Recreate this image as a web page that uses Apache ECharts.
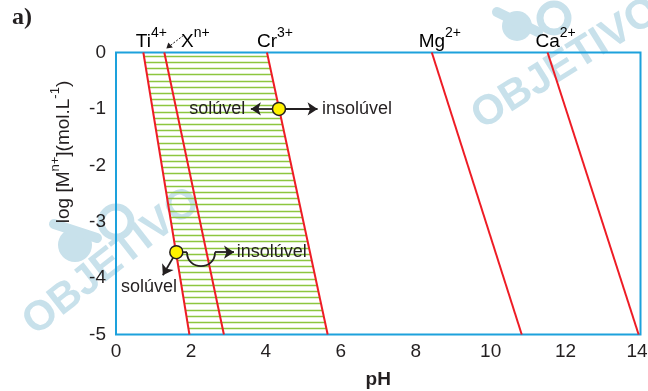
<!DOCTYPE html>
<html>
<head>
<meta charset="utf-8">
<script src="https://cdn.jsdelivr.net/npm/echarts@6/dist/echarts.min.js"></script>
<style>
  html, body { margin: 0; padding: 0; background: #fff; }
  #chart { width: 648px; height: 391px; }
</style>
</head>
<body>
<div id="chart"></div>
<script>
// Precipitation lines: log [M n+] against pH for each cation
const ions       = ['Ti', 'X', 'Cr', 'Mg', 'Ca'];
const charges    = ['4+', 'n+', '3+', '2+', '2+'];
const pHAtTop    = [0.73, 1.29, 4.03, 8.43, 11.52];   // pH where log [M] = 0
const pHAtBottom = [1.96, 2.88, 5.65, 10.83, 13.95];  // pH where log [M] = -5
const logTop = 0;
const logBottom = -5;

// Axis ticks
const pHTicks  = [0, 2, 4, 6, 8, 10, 12, 14];
const logTicks = [0, -1, -2, -3, -4, -5];

// Marked solutions (yellow points)
const pointPH  = [4.35, 1.61];
const pointLog = [-1, -3.54];

// Straight arrows: from (pH, log) to (pH, log)
const arrowFromPH  = [4.35, 4.35, 1.61, 2.64];
const arrowFromLog = [-1, -1, -3.54, -3.54];
const arrowToPH    = [3.60, 5.38, 1.25, 3.15];
const arrowToLog   = [-1, -1, -3.95, -3.54];

// Bent arrow (dips below the point before turning right)
const bendPH  = [1.61, 1.895, 2.643];
const bendLog = [-3.54, -3.87];

// Words next to the arrows
const wordText = ['solúvel', 'insolúvel', 'insolúvel', 'solúvel'];
const wordPH   = [3.45, 5.50, 3.22, 0.88];
const wordLog  = [-1, -1, -3.54, -4.16];

const FONT = '"Liberation Sans", Arial, sans-serif';
const INK = '#231f20';
const RED = '#ee1c25';
const FRAME = '#1da1dc';
const HATCH = '#8dc63f';
const WATER = '#c8e1eb';

// pH of line i at a given log value
function lineAt(i, y) {
  const t = (logTop - y) / (logTop - logBottom);
  return pHAtTop[i] + t * (pHAtBottom[i] - pHAtTop[i]);
}

const chart = echarts.init(document.getElementById('chart'), null, { renderer: 'canvas' });

const ionSeries = ions.map((ion, i) => ({
  type: 'line',
  name: ion,
  data: [[pHAtTop[i], logTop], [pHAtBottom[i], logBottom]],
  symbol: 'none',
  silent: true,
  animation: false,
  z: 4,
  lineStyle: { color: RED, width: 2 }
}));

const supRich = {
  b: { fontFamily: FONT, fontSize: 19, color: INK, lineHeight: 25, verticalAlign: 'bottom' },
  s: { fontFamily: FONT, fontSize: 14, color: INK, lineHeight: 14, verticalAlign: 'top' }
};

// publisher mark: ball, band, ring and lettering
function watermark(cx, cy, ballR, ring, band, tx, ty, angle) {
  return [
    { type: 'circle', z: 0, silent: true, shape: { cx, cy, r: ballR }, style: { fill: WATER } },
    { type: 'arc', z: 0, silent: true, shape: { cx: ring[0], cy: ring[1], r: ring[2], startAngle: 0, endAngle: Math.PI * 2 },
      style: { stroke: WATER, lineWidth: 7, fill: null } },
    { type: 'line', z: 0, silent: true, shape: { x1: band[0], y1: band[1], x2: band[2], y2: band[3] },
      style: { stroke: WATER, lineWidth: 10, lineCap: 'round' } },
    { type: 'text', z: 0, silent: true, x: tx, y: ty, rotation: angle * Math.PI / 180,
      style: { text: 'OBJETIVO', font: 'bold 42px ' + FONT, fill: WATER, align: 'center', verticalAlign: 'middle' } }
  ];
}

const lastPH = pHTicks[pHTicks.length - 1];

const option = {
  animation: false,
  backgroundColor: '#fff',
  grid: {
    left: 116, top: 52.5, right: 7.5, bottom: 56.5,
    outerBoundsMode: 'none',
    show: true, borderColor: FRAME, borderWidth: 2, backgroundColor: 'transparent', z: 3
  },
  xAxis: {
    type: 'value', min: pHTicks[0], max: lastPH, interval: 2,
    axisLine: { show: false }, axisTick: { show: false }, splitLine: { show: false },
    axisLabel: {
      color: INK, fontFamily: FONT, fontSize: 19, margin: 8,
      // keep the last label inside the canvas
      formatter: v => (v === lastPH ? '{end|' + v + '}' : String(v)),
      rich: { end: { color: INK, fontFamily: FONT, fontSize: 19, padding: [0, 7, 0, 0] } }
    },
    name: 'pH', nameLocation: 'middle', nameGap: 36,
    nameTextStyle: { color: INK, fontFamily: FONT, fontSize: 19, fontWeight: 'bold' }
  },
  yAxis: {
    type: 'value', min: logTicks[logTicks.length - 1], max: logTicks[0], interval: 1,
    axisLine: { show: false }, axisTick: { show: false }, splitLine: { show: false },
    axisLabel: { color: INK, fontFamily: FONT, fontSize: 19, margin: 10 }
  },
  graphic: [
    ...watermark(517, 26, 15, [554, 18, 14], [497, 12, 538, 32], 566, 64, 32),
    ...watermark(75, 245, 17, [116, 222, 15], [54, 224, 97, 238], 112, 262, 38),
    // panel letter
    { type: 'text', z: 10, left: 12, top: 6,
      style: { text: 'a)', font: 'bold 24px "Liberation Serif", "Times New Roman", serif', fill: INK } },
    // y axis title
    { type: 'text', z: 10, x: 61, y: 152, rotation: Math.PI / 2,
      style: {
        text: '{b|log [M}{s|n+}{b|](mol.L}{s|-1}{b|)}',
        align: 'center', verticalAlign: 'middle',
        rich: {
          b: { fontFamily: FONT, fontSize: 19, fill: INK, lineHeight: 24, verticalAlign: 'bottom' },
          s: { fontFamily: FONT, fontSize: 13, fill: INK, lineHeight: 13, verticalAlign: 'top' }
        }
      } }
  ],
  series: [
    // horizontal hatching between the Ti and Cr lines
    {
      type: 'custom', silent: true, z: 2,
      data: [[0, 0]],
      renderItem: (params, api) => {
        const children = [];
        const step = 0.1097;
        for (let k = 0; k < 45; k++) {
          const y = logTop - 0.06 - k * step;
          const p1 = api.coord([lineAt(0, y), y]);
          const p2 = api.coord([lineAt(2, y), y]);
          const py = Math.round(p1[1]) + 0.5;
          children.push({
            type: 'line',
            shape: { x1: p1[0], y1: py, x2: p2[0], y2: py },
            style: { stroke: HATCH, lineWidth: 1.3 }
          });
        }
        return { type: 'group', children };
      }
    },
    ...ionSeries,
    // ion labels above the frame
    {
      type: 'custom', silent: true, z: 6,
      data: ions.map((ion, i) => [pHAtTop[i], logTop, i]),
      renderItem: (params, api) => {
        const i = api.value(2);
        const p = api.coord([api.value(0), api.value(1)]);
        const dx = ions[i] === 'X' ? 31 : 8;
        const children = [{
          type: 'text', x: p[0] + dx, y: p[1] - 14,
          style: {
            text: '{b|' + ions[i] + '}{s|' + charges[i] + '}',
            align: 'center', verticalAlign: 'middle', rich: supRich
          }
        }];
        if (ions[i] === 'X') {
          // dashed pointer from the X label down to its line
          children.push({
            type: 'line',
            shape: { x1: p[0] + 19, y1: p[1] - 17, x2: p[0] + 6, y2: p[1] - 7 },
            style: { stroke: INK, lineWidth: 1, lineDash: [2, 1.5] }
          });
          children.push({
            type: 'polygon',
            shape: { points: [[p[0] + 2, p[1] - 4], [p[0] + 4, p[1] - 10], [p[0] + 8.5, p[1] - 5]] },
            style: { fill: INK }
          });
        }
        return { type: 'group', children };
      }
    },
    // bent arrow path
    {
      type: 'custom', silent: true, z: 7,
      data: [[bendPH[0], bendLog[0]]],
      renderItem: (params, api) => {
        const a = api.coord([bendPH[0], bendLog[0]]);
        const b = api.coord([bendPH[1], bendLog[0]]);
        const c1 = api.coord([bendPH[1], bendLog[1]]);
        const c2 = api.coord([bendPH[2], bendLog[1]]);
        const e = api.coord([bendPH[2], bendLog[0]]);
        return {
          type: 'group',
          children: [
            { type: 'line', shape: { x1: a[0], y1: a[1], x2: b[0], y2: b[1] }, style: { stroke: INK, lineWidth: 1.8 } },
            { type: 'bezierCurve', shape: { x1: b[0], y1: b[1], cpx1: c1[0], cpy1: c1[1], cpx2: c2[0], cpy2: c2[1], x2: e[0], y2: e[1] },
              style: { stroke: INK, lineWidth: 1.8, fill: null } }
          ]
        };
      }
    },
    // straight arrows
    {
      type: 'lines', coordinateSystem: 'cartesian2d', silent: true, z: 7,
      polyline: false, clip: false,
      symbol: ['none', 'arrow'], symbolSize: 10,
      lineStyle: { color: INK, width: 1.8, opacity: 1, curveness: 0 },
      data: arrowFromPH.map((x, i) => ({
        coords: [[x, arrowFromLog[i]], [arrowToPH[i], arrowToLog[i]]]
      }))
    },
    // yellow points
    {
      type: 'scatter', silent: true, z: 8,
      data: pointPH.map((x, i) => [x, pointLog[i]]),
      symbol: 'circle', symbolSize: 13,
      itemStyle: { color: '#fff200', borderColor: INK, borderWidth: 1.5, opacity: 1 }
    },
    // words
    {
      type: 'custom', silent: true, z: 8,
      data: wordText.map((w, i) => [wordPH[i], wordLog[i], i]),
      renderItem: (params, api) => {
        const i = api.value(2);
        const p = api.coord([api.value(0), api.value(1)]);
        const align = ['right', 'left', 'left', 'center'][i];
        return {
          type: 'text', x: p[0], y: p[1],
          style: { text: wordText[i], font: '18px ' + FONT, fill: INK, align, verticalAlign: 'middle' }
        };
      }
    }
  ]
};

chart.setOption(option);
</script>
</body>
</html>
